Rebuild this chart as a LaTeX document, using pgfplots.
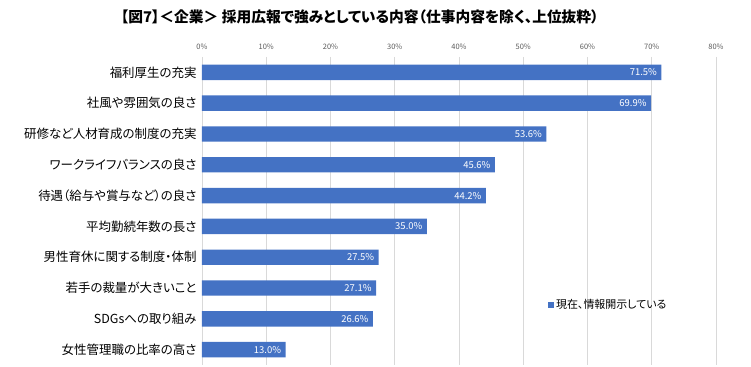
\documentclass[border=0pt]{standalone}
\usepackage{pgfplots}
\pgfplotsset{compat=1.18}
\usepackage{fontspec}
\setmainfont{Noto Sans CJK JP}[RawFeature=+palt]
\definecolor{barblue}{HTML}{4472C4}
\definecolor{gridgray}{HTML}{D9D9D9}
\definecolor{ticktext}{HTML}{595959}
\begin{document}
\begin{tikzpicture}[x=1bp,y=1bp]
\begin{axis}[
  scale only axis,
  width=514bp, height=308bp,
  xbar,
  bar width=0.5,
  xmin=0, xmax=80,
  ymin=-0.5, ymax=9.5,
  y dir=reverse,
  ytick={0,...,9},
  yticklabels={福利厚生の充実,社風や雰囲気の良さ,研修など人材育成の制度の充実,ワークライフバランスの良さ,待遇（給与や賞与など）の良さ,平均勤続年数の長さ,男性育休に関する制度・体制,若手の裁量が大きいこと,SDGsへの取り組み,女性管理職の比率の高さ},
  yticklabel style={font=\fontsize{12.5}{13}\selectfont, text=black, xshift=-2bp},
  xtick={0,10,...,80},
  xticklabel pos=upper,
  xticklabel={\pgfmathprintnumber{\tick}\%},
  /pgf/number format/assume math mode=true,
  xticklabel style={font=\fontsize{7.5}{8}\selectfont, text=ticktext, yshift=4bp},
  xmajorgrids,
  major grid style={gridgray, line width=0.75bp},
  axis line style={draw=none},
  major tick length=0pt,
  clip=false,
  nodes near coords={\pgfmathprintnumber[fixed,fixed zerofill,precision=1]{\pgfplotspointmeta}\%},
  nodes near coords style={anchor=east, text=white, font=\fontsize{9.5}{10}\selectfont, xshift=-1bp},
  point meta=x,
  legend style={at={(0.673,0.195)}, anchor=west, draw=none, fill=none, font=\fontsize{11}{12}\selectfont, inner sep=0pt},
  legend image code/.code={\fill[barblue] (0bp,-3bp) rectangle (6bp,3bp);},
]
\addplot[fill=barblue, draw=none] coordinates {
(71.5,0) (69.9,1) (53.6,2) (45.6,3) (44.2,4) (35.0,5) (27.5,6) (27.1,7) (26.6,8) (13.0,9)
};
\addlegendentry{現在、情報開示している}
\node[font=\bfseries\fontsize{14.8}{15}\selectfont] at (rel axis cs:0.307,1.13) {【図7】＜企業＞ 採用広報で強みとしている内容（仕事内容を除く、上位抜粋）};
\end{axis}
\path (current axis.south west) ++(-202bp,-2bp) rectangle ++(751bp,367bp);
\end{tikzpicture}
\end{document}
